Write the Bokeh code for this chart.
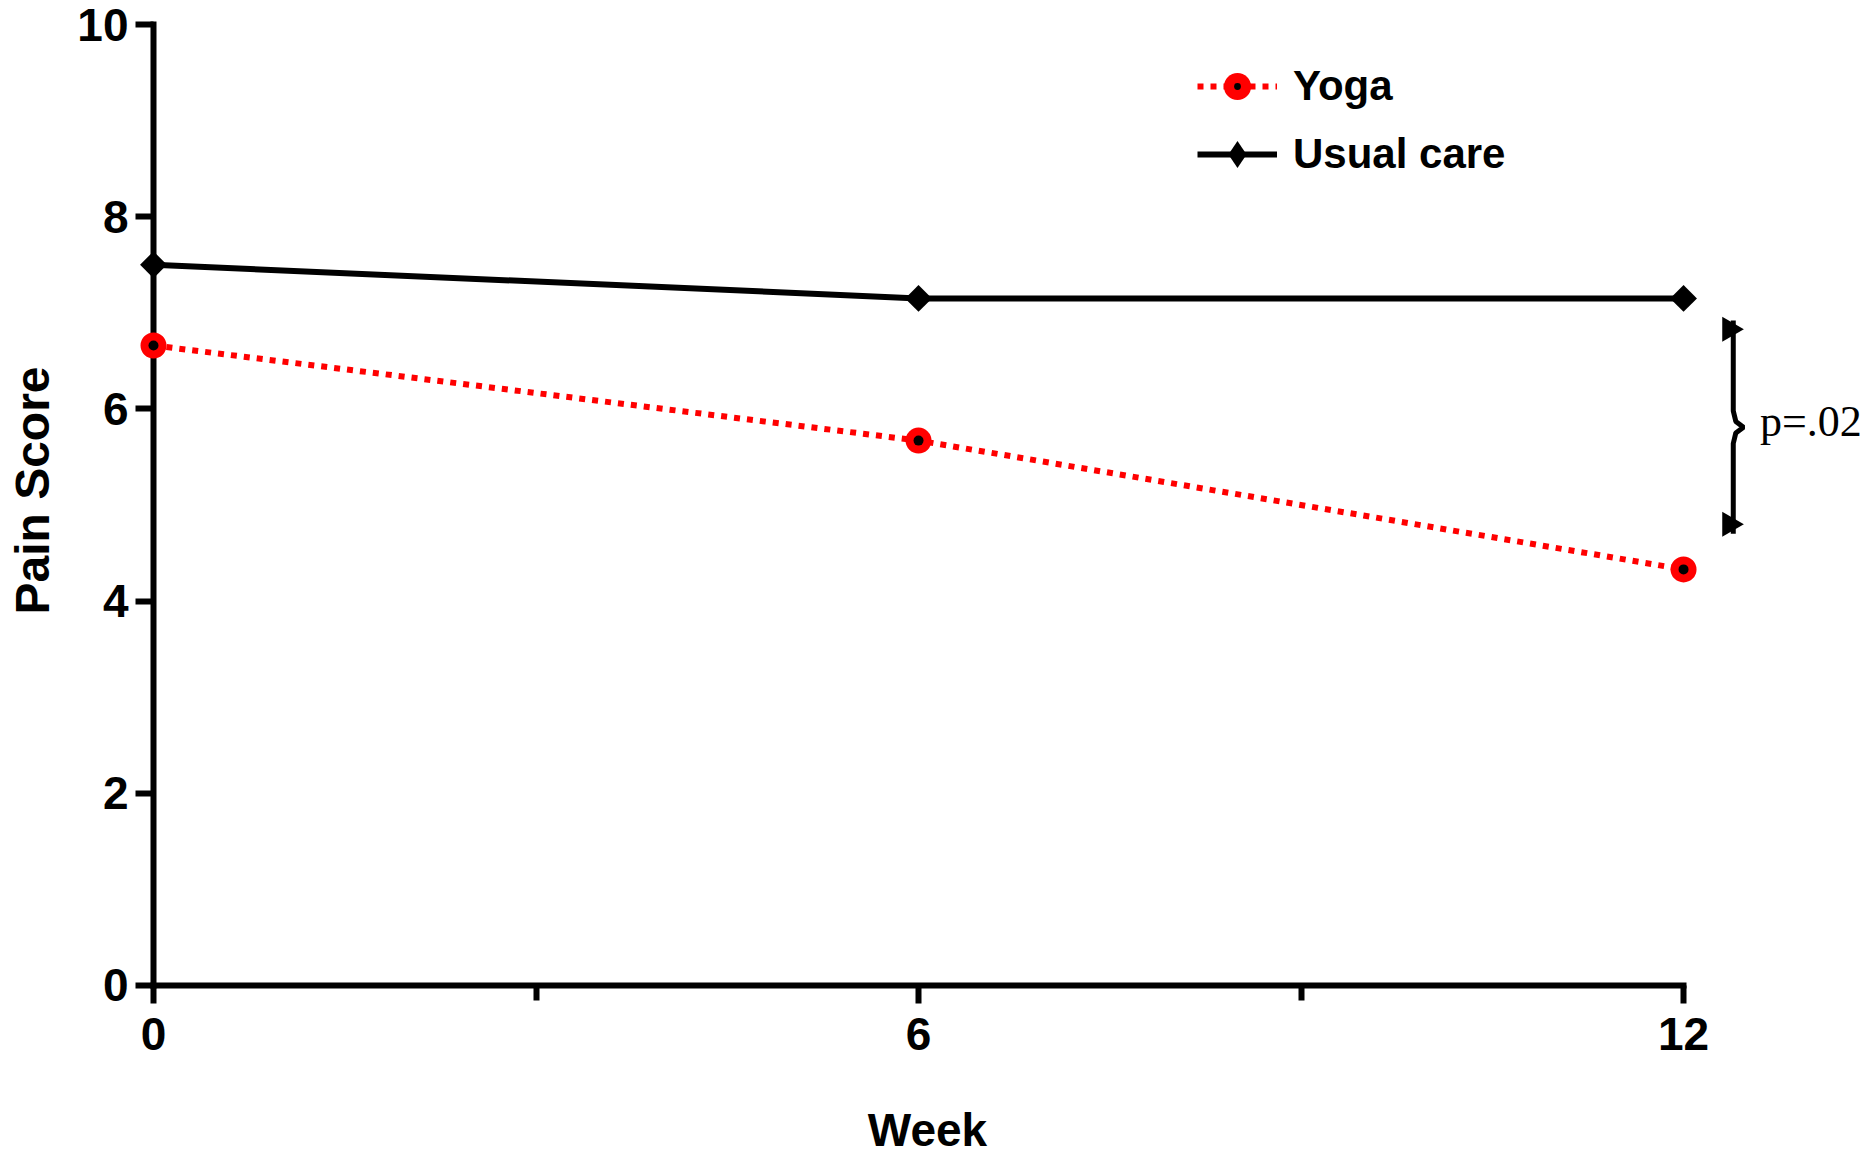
import math
from bokeh.plotting import figure
from bokeh.models import Range1d, FixedTicker, Legend, LegendItem, Label
from bokeh.core.properties import value
from bokeh.embed import file_html
from bokeh.resources import INLINE

# ---- data ----
weeks = [0, 6, 12]
yoga = [6.66, 5.67, 4.33]
usual_care = [7.50, 7.15, 7.15]
series_names = ["Yoga", "Usual care"]
x_ticks = [0, 6, 12]
x_minor_ticks = [3, 9]
y_ticks = [0, 2, 4, 6, 8, 10]
x_title = "Week"
y_title = "Pain Score"
p_label = "p=.02"
brace_x = 12.39
brace_top = 6.92
brace_bottom = 4.70

FONT = "Liberation Sans"
W, H = 1872, 1159

p = figure(width=W, height=H, output_backend="svg", toolbar_location=None,
           x_range=Range1d(-1.2, 13.482), y_range=Range1d(-1.811, 10.25),
           min_border=0, outline_line_color=None)
p.grid.visible = False

xa = p.xaxis[0]
ya = p.yaxis[0]
for ax in (xa, ya):
    ax.fixed_location = 0
    ax.level = "underlay"
    ax.axis_line_width = 6
    ax.axis_line_cap = "square"
    ax.major_tick_line_width = 6
    ax.minor_tick_line_width = 6
    ax.major_tick_in = 0
    ax.major_tick_out = 18
    ax.minor_tick_in = 0
    ax.minor_tick_out = 15
    ax.major_label_text_font = FONT
    ax.major_label_text_font_style = "bold"
    ax.major_label_text_font_size = "46px"
    ax.major_label_text_color = "black"

xa.ticker = FixedTicker(ticks=x_ticks, minor_ticks=x_minor_ticks)
xa.bounds = (x_ticks[0], x_ticks[-1])
xa.major_label_standoff = 15

ya.ticker = FixedTicker(ticks=y_ticks)
ya.bounds = (y_ticks[0], y_ticks[-1])
ya.minor_tick_line_color = None
ya.major_label_standoff = 7

# axis titles
p.add_layout(Label(x=927, y=H - 1129, x_units="screen", y_units="screen", text=x_title,
                   text_align="center", text_baseline="middle", text_font=FONT,
                   text_font_style="bold", text_font_size="46px", text_color="black"))
p.add_layout(Label(x=32, y=H - 490, x_units="screen", y_units="screen", text=y_title,
                   angle=math.pi / 2, text_align="center", text_baseline="middle",
                   text_font=FONT, text_font_style="bold", text_font_size="48px",
                   text_color="black"))

# ---- series ----
uc_line = p.line(weeks, usual_care, line_color="black", line_width=6)
uc_key = p.scatter(weeks, usual_care, marker="diamond", size=18,
                   fill_color="black", line_color=None)
uc_pts = p.scatter(weeks, usual_care, marker="square", angle=math.pi / 4,
                   size=19, fill_color="black", line_color=None)

yoga_line = p.line(weeks, yoga, line_color="#ff0000", line_width=6, line_dash="6 7")
yoga_pts = p.scatter(weeks, yoga, marker="circle", size=26,
                     fill_color="#ff0000", line_color=None)
yoga_key = p.scatter(weeks, yoga, marker="dot", size=26,
                     fill_color="black", line_color="black")
yoga_dot = p.scatter(weeks, yoga, marker="circle", size=10,
                     fill_color="black", line_color=None)

# ---- significance brace ----
mid = (brace_top + brace_bottom) / 2
bx = [brace_x, brace_x, brace_x + 0.02, brace_x + 0.08, brace_x + 0.02, brace_x, brace_x]
by = [brace_top, mid + 0.17, mid + 0.06, mid, mid - 0.06, mid - 0.17, brace_bottom]
p.line(bx, by, line_color="black", line_width=5)
p.scatter([brace_x - 0.03, brace_x - 0.03], [brace_top - 0.09, brace_bottom + 0.10],
          marker="triangle", angle=-math.pi / 2, size=25,
          fill_color="black", line_color=None)
p.text(x=[brace_x + 0.21], y=[mid + 0.06], text=[p_label],
       text_font=value("Liberation Serif"), text_font_size="44px",
       text_baseline="alphabetic", text_align="left", text_color="black")

# ---- legend ----
legend = Legend(items=[LegendItem(label=series_names[0], renderers=[yoga_line, yoga_pts, yoga_key]),
                       LegendItem(label=series_names[1], renderers=[uc_line, uc_key])],
                location=(1197, 971), orientation="vertical",
                glyph_width=80, glyph_height=68, spacing=-2, padding=0, margin=0,
                label_standoff=16, border_line_color=None, background_fill_alpha=0,
                label_text_font=FONT, label_text_font_style="bold",
                label_text_font_size="42px", label_text_color="black")
p.add_layout(legend)

open("out.html", "w").write(file_html(p, INLINE))
